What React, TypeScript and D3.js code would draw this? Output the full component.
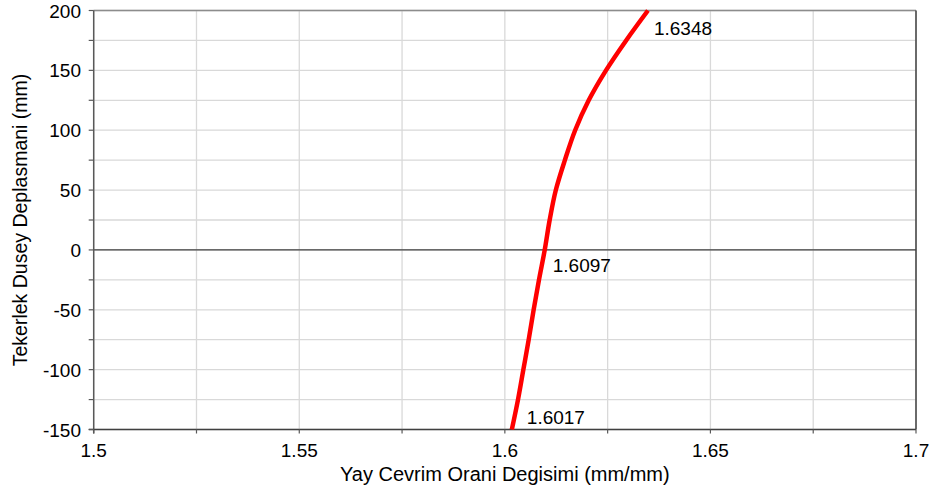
import React from "react";
import * as d3 from "d3";

const displacement = [-150, -125, -100, -75, -50, -25, 0, 25, 50, 75, 100, 125, 150, 175, 200];
const ratio = [1.6017, 1.6032, 1.6045, 1.6058, 1.607, 1.6083, 1.6097, 1.6109, 1.6124, 1.6146, 1.6171, 1.6204, 1.6246, 1.6295, 1.6348];
const labelled = [
  { d: 200, v: 1.6348, text: "1.6348", dx: 6, dy: 24 },
  { d: 0, v: 1.6097, text: "1.6097", dx: 8, dy: 22 },
  { d: -150, v: 1.6017, text: "1.6017", dx: 15, dy: -6 },
];
const xMajor = [1.5, 1.55, 1.6, 1.65, 1.7];
const xAll = [1.5, 1.525, 1.55, 1.575, 1.6, 1.625, 1.65, 1.675, 1.7];
const yMajor = [200, 150, 100, 50, 0, -50, -100, -150];
const yAll = d3.range(-150, 201, 25);

const W = 936, H = 495;
const L = 93.7, R = 916, T = 10.5, B = 429.5;
const FONT = "Arial, 'Liberation Sans', sans-serif";

export default function App() {
  const x = d3.scaleLinear().domain([1.5, 1.7]).range([L, R]);
  const y = d3.scaleLinear().domain([-150, 200]).range([B, T]);
  const pts: [number, number][] = displacement.map((d, i) => [x(ratio[i]), y(d)]);
  const path = d3.line<[number, number]>().x(p => p[0]).y(p => p[1]).curve(d3.curveCatmullRom.alpha(0.5))(pts) || "";
  return (
    <svg width={W} height={H} style={{ position: "absolute", left: 0, top: 0, background: "#fff" }} fontFamily={FONT}>
      <rect x={0} y={0} width={W} height={H} fill="#fff" />
      {xAll.map(v => (
        <line key={"gx" + v} x1={x(v)} x2={x(v)} y1={T} y2={B} stroke="#d9d9d9" strokeWidth={1.3} />
      ))}
      {yAll.map(v => (
        <line key={"gy" + v} x1={L} x2={R} y1={y(v)} y2={y(v)} stroke="#d9d9d9" strokeWidth={1.3} />
      ))}
      <line x1={L} x2={R} y1={T} y2={T} stroke="#8c8c8c" strokeWidth={1.5} />
      <line x1={R} x2={R} y1={T} y2={B} stroke="#404040" strokeWidth={1.5} />
      <line x1={L} x2={R} y1={y(0)} y2={y(0)} stroke="#404040" strokeWidth={1.2} />
      <line x1={L} x2={L} y1={T} y2={B + 4} stroke="#595959" strokeWidth={1.5} />
      <line x1={L - 5} x2={R} y1={B} y2={B} stroke="#404040" strokeWidth={1.5} />
      {yAll.map(v => (
        <line key={"ty" + v} x1={L - 5} x2={L} y1={y(v)} y2={y(v)} stroke="#595959" strokeWidth={1.2} />
      ))}
      {xAll.map(v => (
        <line key={"tx" + v} x1={x(v)} x2={x(v)} y1={B} y2={B + 4} stroke="#595959" strokeWidth={1.2} />
      ))}
      {yMajor.map(v => (
        <text key={"ly" + v} x={81} y={y(v) + 7} textAnchor="end" fontSize={19} fill="#000">{v}</text>
      ))}
      {xMajor.map(v => (
        <text key={"lx" + v} x={x(v)} y={457} textAnchor="middle" fontSize={19} fill="#000">{String(v)}</text>
      ))}
      <text x={(L + R) / 2} y={481} textAnchor="middle" fontSize={20} fill="#000">Yay Cevrim Orani Degisimi (mm/mm)</text>
      <text transform={`translate(27,${(T + B) / 2}) rotate(-90)`} textAnchor="middle" fontSize={19.5} fill="#000">Tekerlek Dusey Deplasmani (mm)</text>
      <path d={path} fill="none" stroke="#ff0000" strokeWidth={4.5} />
      {labelled.map(l => (
        <text key={l.text} x={x(l.v) + l.dx} y={y(l.d) + l.dy} fontSize={19} fill="#000">{l.text}</text>
      ))}
    </svg>
  );
}
